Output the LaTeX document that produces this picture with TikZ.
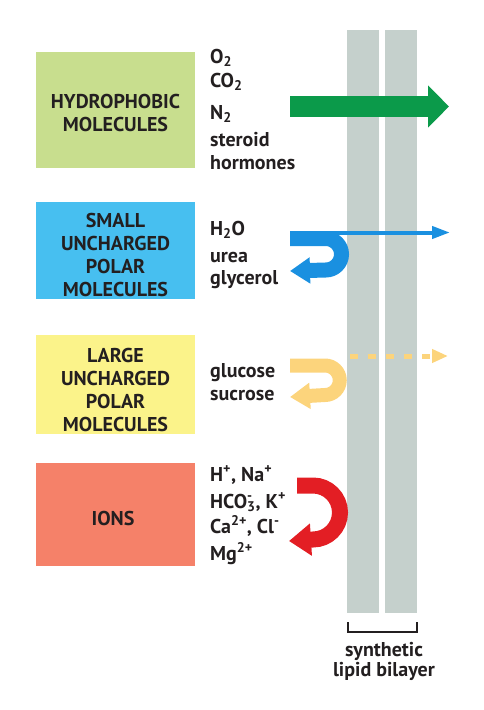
\documentclass[tikz,border=0pt]{standalone}
\usepackage{fontspec}
\setmainfont{PT Sans}
\usetikzlibrary{arrows.meta}

\begin{document}
\begin{tikzpicture}[x=1pt,y=-1pt,font=\bfseries\fontsize{20}{23}\selectfont]
\definecolor{mbLayer}{HTML}{C5D0CC}
\definecolor{mbText}{HTML}{231F20}
\definecolor{mbHydBox}{HTML}{C8DE8E}
\definecolor{mbSmallBox}{HTML}{47BFF0}
\definecolor{mbLargeBox}{HTML}{FBF38A}
\definecolor{mbIonBox}{HTML}{F58169}
\definecolor{mbGreenArr}{HTML}{0B9A4A}
\definecolor{mbBlueArr}{HTML}{1A90E0}
\definecolor{mbYellowArr}{HTML}{FCD47C}
\definecolor{mbRedArr}{HTML}{E31E24}
\def\ltop{30}
\def\lbot{613}
\def\boxl{36}
\def\boxr{195}
\def\labx{210}

\useasboundingbox (0,0) rectangle (483,710);

% the two leaflets of the bilayer
\path[fill=mbLayer] (347,\ltop) rectangle (379,\lbot);
\path[fill=mbLayer] (385,\ltop) rectangle (417,\lbot);

\foreach \name/\col/\ya/\yb/\yc/\txt in {
	hyd/mbHydBox/52/168/113/{HYDROPHOBIC\\MOLECULES},
	small/mbSmallBox/202/299/255/{SMALL\\UNCHARGED\\POLAR\\MOLECULES},
	large/mbLargeBox/335/434/390/{LARGE\\UNCHARGED\\POLAR\\MOLECULES},
	ion/mbIonBox/463/566/518/{IONS}
} {
	\path[fill=\col] (\boxl,\ya) rectangle (\boxr,\yb);
	\node[align=center,text=mbText,inner sep=0pt] (box-\name) at (115.5,\yc) {\txt};
}

\foreach \y/\txt [count=\i] in {
	63/O\textsubscript{2},
	87/CO\textsubscript{2},
	119/N\textsubscript{2},
	146/steroid,
	169/hormones,
	235/H\textsubscript{2}O,
	262/urea,
	284/glycerol,
	377/glucose,
	400/sucrose,
	481/{H\textsuperscript{+}, Na\textsuperscript{+}},
	508/{HCO\rlap{\textsuperscript{-}}\textsubscript{3}, K\textsuperscript{+}},
	533/{Ca\textsuperscript{2+}, Cl\textsuperscript{-}},
	560/Mg\textsuperscript{2+}
} {
	\node[anchor=base west,text=mbText,inner sep=0pt] (lab-\i) at (\labx,\y) {\txt};
}

% hydrophobic: straight through
\draw[mbGreenArr,line width=21pt,-{Triangle[length=21pt,width=41pt]}]
	(290,106.5) -- (449,106.5);

% small polar: thin through, most bounce back
\draw[mbBlueArr,line width=4pt,-{Triangle[length=18pt,width=12pt]}]
	(300,232.5) -- (450,232.5);
\draw[mbBlueArr,line width=15pt,-{Triangle[length=20pt,width=25pt]}]
	(290,238.5) -- (325.75,238.5) arc[start angle=-90,end angle=90,radius=15.75] -- (290,271);

% large polar: barely through
\draw[mbYellowArr,line width=5pt,dash pattern=on 8pt off 10pt,-{Triangle[length=16pt,width=13pt]}]
	(350,356) -- (448,356);
\draw[mbYellowArr,line width=14pt,-{Triangle[length=20pt,width=25pt]}]
	(290,365.5) -- (325,365.5) arc[start angle=-90,end angle=90,radius=14.75] -- (290,397);

% ions: all bounce back
\draw[mbRedArr,line width=16pt,-{Triangle[length=22pt,width=31pt]}]
	(297,485.5) -- (313,485.5) arc[start angle=-90,end angle=90,radius=27] -- (289,541);

\coordinate (brace-l) at (348,622);
\coordinate (brace-r) at (417,622);
\draw[mbText,line width=2.5pt] (brace-l) |- (382.5,632) -| (brace-r);
\node[align=center,text=mbText,inner sep=0pt,anchor=base,font=\bfseries\fontsize{20}{20}\selectfont]
	(bilayer) at (384,676) {synthetic\\lipid bilayer};
\end{tikzpicture}
\end{document}
